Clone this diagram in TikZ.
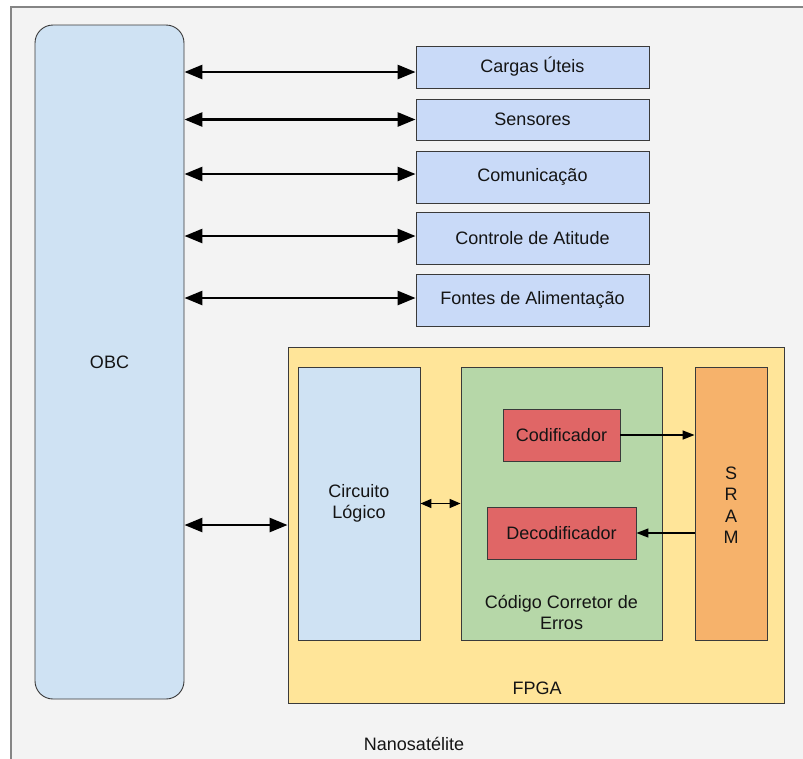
\documentclass[tikz,border=0pt]{standalone}
\usepackage{fontspec}
\setmainfont{Liberation Sans}
\usetikzlibrary{arrows.meta}

\definecolor{framegray}{HTML}{858585}
\definecolor{bggray}{HTML}{F3F3F3}
\definecolor{edge}{HTML}{3A3A3A}
\definecolor{obcblue}{HTML}{CFE2F3}
\definecolor{subblue}{HTML}{C9DAF8}
\definecolor{fpgayellow}{HTML}{FFE599}
\definecolor{eccgreen}{HTML}{B6D7A8}
\definecolor{sramorange}{HTML}{F6B26B}
\definecolor{codred}{HTML}{E06666}
\definecolor{txt}{HTML}{141414}

\tikzset{
  block/.style={draw=edge, line width=0.9pt, inner sep=0pt, align=center,
    text=txt, font=\fontsize{18}{21.5}\selectfont},
  label/.style={inner sep=0pt, align=center, text=txt,
    font=\fontsize{18}{21.5}\selectfont},
  bigarrow/.style={line width=2.7pt, {Triangle[length=18pt,width=14pt]}-{Triangle[length=18pt,width=14pt]}},
  thinarrow/.style={line width=1.5pt, -{Triangle[length=12pt,width=9pt]}},
  smallboth/.style={line width=1.5pt, {Triangle[length=11pt,width=9pt]}-{Triangle[length=11pt,width=9pt]}}
}

\begin{document}
\begin{tikzpicture}[x=1pt,y=-1pt]
\useasboundingbox (0,0) rectangle (803,758);
\clip (0,0) rectangle (803,758);
\fill[white] (0,0) rectangle (803,758);

% satellite enclosure
\draw[framegray, line width=1.6pt, fill=bggray] (11,7) rectangle (830,790);
\node[label] (nano) at (414,744) {Nanosatélite};

% on-board computer
\node[block, fill=obcblue, rounded corners=18pt, minimum width=149pt, minimum height=674pt]
  (obc) at (109.5,362) {OBC};

% subsystems
\node[block, fill=subblue, minimum width=233pt, minimum height=42pt] (cargas)   at (532.5,67)  {Cargas Úteis};
\node[block, fill=subblue, minimum width=233pt, minimum height=41pt] (sensores) at (532.5,119.5) {Sensores};
\node[block, fill=subblue, minimum width=233pt, minimum height=52pt] (comunic)  at (532.5,177) {Comunicação};
\node[block, fill=subblue, minimum width=233pt, minimum height=52pt] (controle) at (532.5,238) {Controle de Atitude};
\node[block, fill=subblue, minimum width=233pt, minimum height=52pt] (fontes)   at (532.5,300) {Fontes de Alimentação};

% FPGA and its contents
\node[block, fill=fpgayellow, minimum width=496pt, minimum height=356pt] (fpga) at (536,525) {};
\node[label] (fpgalabel) at (537,688) {FPGA};

\node[block, fill=obcblue, minimum width=122pt, minimum height=273pt] (circ) at (359,503.5) {Circuito\\Lógico};
\node[block, fill=eccgreen, minimum width=201pt, minimum height=273pt] (ecc) at (561.5,503.5) {};
\node[label] (ecclabel) at (561.5,612.5) {Código Corretor de\\Erros};
\node[block, fill=sramorange, minimum width=72pt, minimum height=273pt] (sram) at (731,503.5) {};
\node[label] (sramlabel) at (731,505) {S\\R\\A\\M};

\node[block, fill=codred, minimum width=117pt, minimum height=52pt] (cod) at (561.5,435) {Codificador};
\node[block, fill=codred, minimum width=149pt, minimum height=52pt] (dec) at (561.5,533) {Decodificador};

% links from the OBC
\draw[bigarrow] ([yshift=-5pt]cargas.west -| obc.east) -- ([yshift=-5pt]cargas.west);
\draw[bigarrow] (sensores.west -| obc.east) -- (sensores.west);
\draw[bigarrow] ([yshift=3pt]comunic.west -| obc.east) -- ([yshift=3pt]comunic.west);
\draw[bigarrow] ([yshift=2pt]controle.west -| obc.east) -- ([yshift=2pt]controle.west);
\draw[bigarrow] ([yshift=2pt]fontes.west -| obc.east) -- ([yshift=2pt]fontes.west);
\draw[bigarrow] (fpga.west -| obc.east) -- (fpga.west);

% links inside the FPGA
\draw[smallboth] (circ.east) -- (circ.east -| ecc.west);
\draw[thinarrow] (cod.east) -- (cod.east -| sram.west);
\draw[thinarrow] (dec.east -| sram.west) -- (dec.east);
\end{tikzpicture}
\end{document}
